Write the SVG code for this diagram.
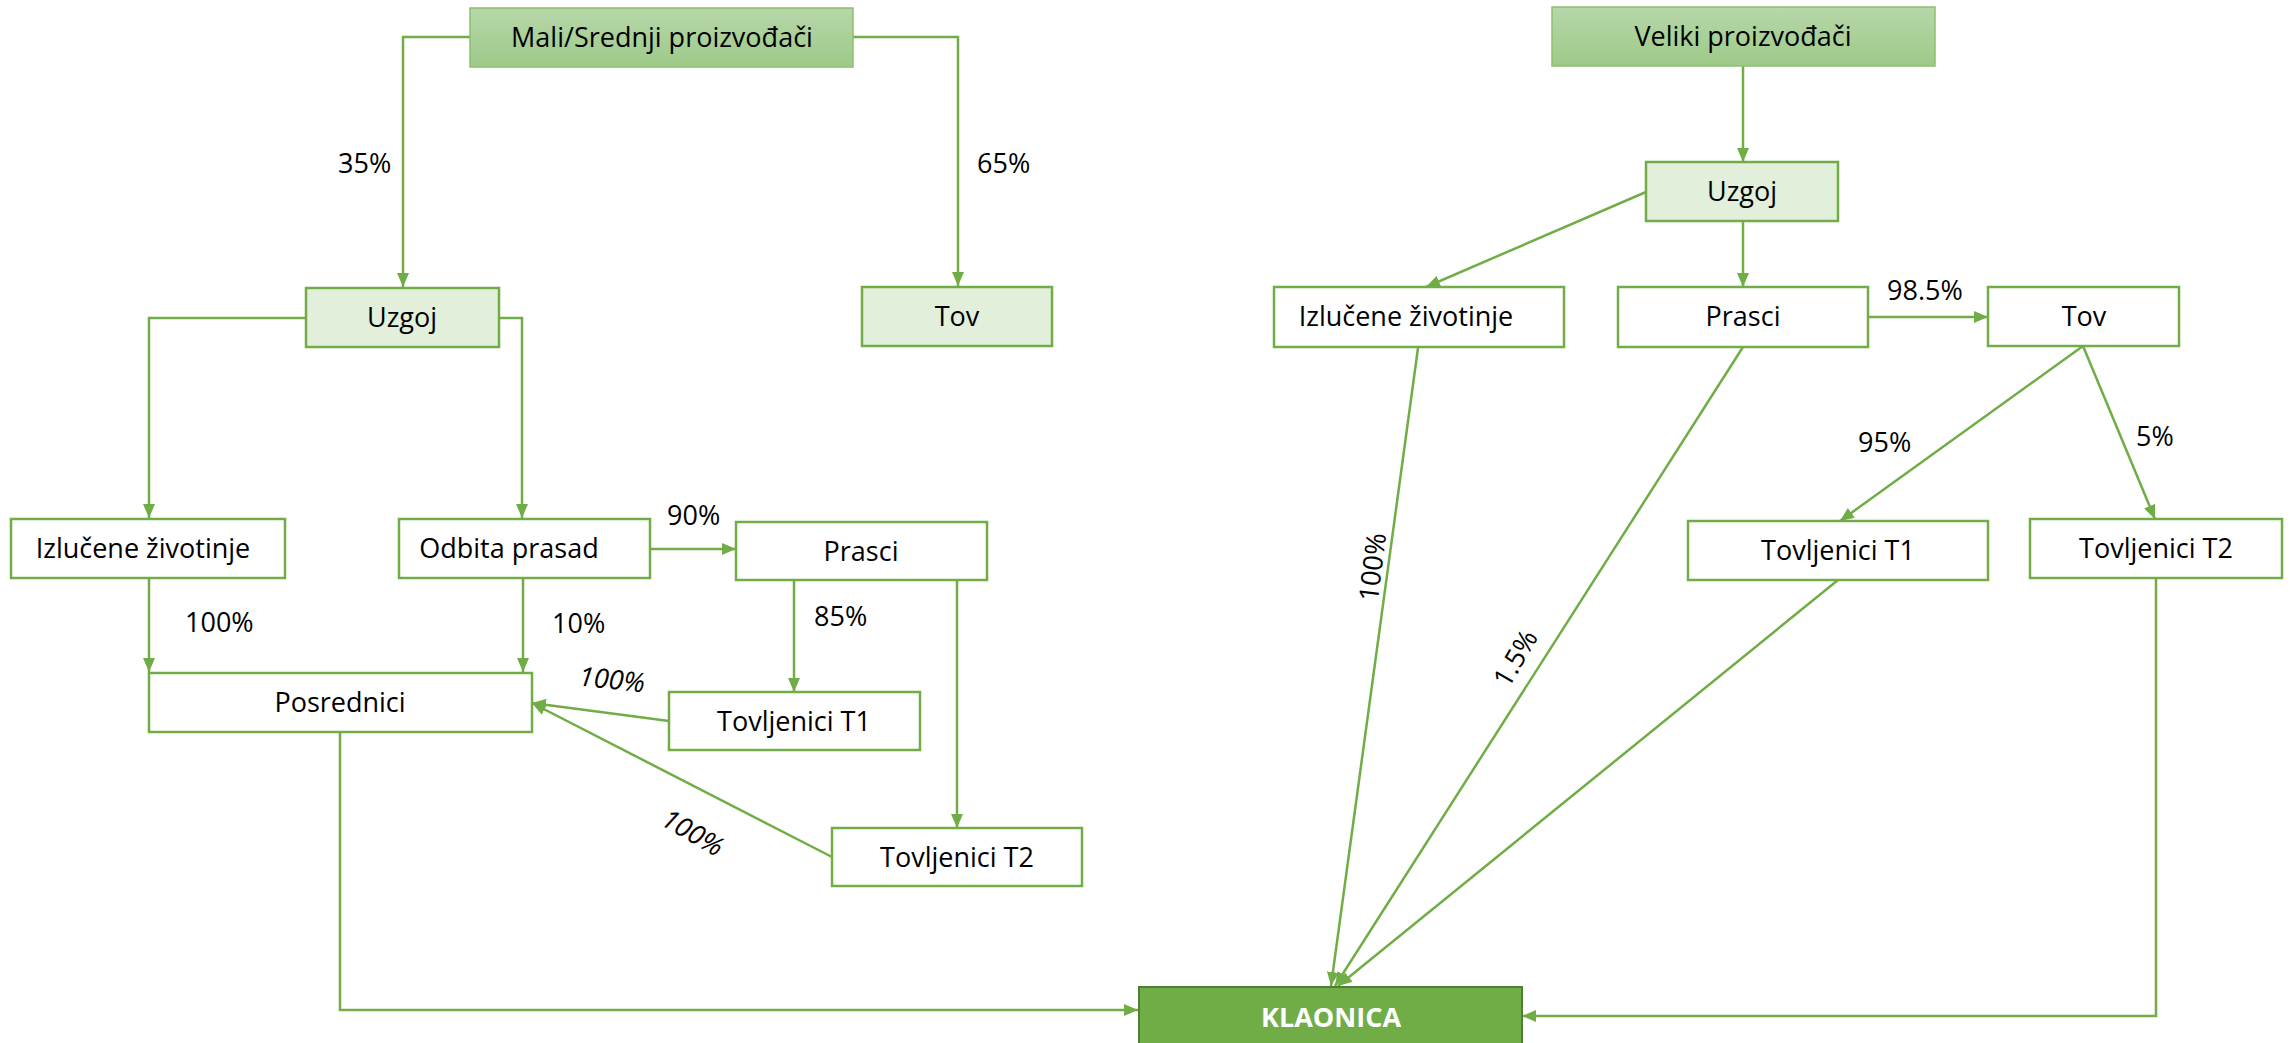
<svg xmlns="http://www.w3.org/2000/svg" width="2290" height="1043" viewBox="0 0 2290 1043">
<defs>
<linearGradient id="gTop" x1="0" y1="0" x2="0" y2="1">
<stop offset="0" stop-color="#B7D7AA"/>
<stop offset="1" stop-color="#9DCA88"/>
</linearGradient>
<marker id="ah" viewBox="0 0 14 12" refX="14" refY="6" markerWidth="14" markerHeight="12" markerUnits="userSpaceOnUse" orient="auto">
<path d="M0,0 L14,6 L0,12 Z" fill="#70AD47"/>
</marker>
<style>
text{font-family:"Open Sans","Liberation Sans",sans-serif;font-size:27px;fill:#000}
.c{text-anchor:middle}
.it{font-style:italic}
.box{fill:#fff;stroke:#70AD47;stroke-width:2.5}
.lt{fill:#E2EFDA;stroke:#70AD47;stroke-width:2.5}
.top{fill:url(#gTop);stroke:#8CC06E;stroke-width:1.5}
.kl{fill:#70AD47;stroke:#507E32;stroke-width:2}
.kt{fill:#fff;font-weight:bold}
#connectors path{fill:none;stroke:#70AD47;stroke-width:2.5;marker-end:url(#ah)}
</style>
</defs>
<rect width="2290" height="1043" fill="#fff"/>

<g id="connectors">
<path d="M470,37 H403 V287"/>
<path d="M853,37 H958 V286"/>
<path d="M306,318 H149 V518"/>
<path d="M499,318 H522 V518"/>
<path d="M149,578 V672"/>
<path d="M523,578 V672"/>
<path d="M650,549 H736"/>
<path d="M794,580 V692"/>
<path d="M957,580 V828"/>
<path d="M669,721 L532,703"/>
<path d="M832,857 L532,703"/>
<path d="M340,732 V1010 H1138"/>
<path d="M1743,66 V162"/>
<path d="M1646,192 L1426,287"/>
<path d="M1743,221 V287"/>
<path d="M1868,317 H1988"/>
<path d="M2083,346 L1840,521"/>
<path d="M2083,346 L2155,519"/>
<path d="M1418,348 L1331,986"/>
<path d="M1743,347 L1335,986"/>
<path d="M1838,580 L1338,986"/>
<path d="M2156,578 V1016 H1522"/>
</g>

<g id="labels">
<text x="338" y="173">35%</text>
<text x="977" y="173">65%</text>
<text x="185" y="632">100%</text>
<text x="552" y="633">10%</text>
<text x="667" y="525">90%</text>
<text x="814" y="626">85%</text>
<text class="c it" x="612" y="689" transform="rotate(6 612 679)">100%</text>
<text class="c it" x="693" y="842" transform="rotate(30 693 832)">100%</text>
<text x="1887" y="300">98.5%</text>
<text x="1858" y="452">95%</text>
<text x="2136" y="446">5%</text>
<text class="c" x="1372" y="577" transform="rotate(-83 1372 567)">100%</text>
<text class="c" x="1515" y="668" transform="rotate(-60 1515 658)">1.5%</text>
</g>

<g id="n-mali"><rect class="top" x="470" y="8" width="383" height="59"/><text class="c" x="662" y="47">Mali/Srednji proizvođači</text></g>
<g id="n-uzgoj-l"><rect class="lt" x="306" y="288" width="193" height="59"/><text class="c" x="402" y="327">Uzgoj</text></g>
<g id="n-tov-l"><rect class="lt" x="862" y="287" width="190" height="59"/><text class="c" x="957" y="326">Tov</text></g>
<g id="n-izl-l"><rect class="box" x="11" y="519" width="274" height="59"/><text class="c" x="143" y="558">Izlučene životinje</text></g>
<g id="n-odbita"><rect class="box" x="399" y="519" width="251" height="59"/><text class="c" x="509" y="558">Odbita prasad</text></g>
<g id="n-prasci-l"><rect class="box" x="736" y="522" width="251" height="58"/><text class="c" x="861" y="561">Prasci</text></g>
<g id="n-posrednici"><rect class="box" x="149" y="673" width="383" height="59"/><text class="c" x="340" y="712">Posrednici</text></g>
<g id="n-t1-l"><rect class="box" x="669" y="692" width="251" height="58"/><text class="c" x="794" y="731">Tovljenici T1</text></g>
<g id="n-t2-l"><rect class="box" x="832" y="828" width="250" height="58"/><text class="c" x="957" y="867">Tovljenici T2</text></g>

<g id="n-veliki"><rect class="top" x="1552" y="7" width="383" height="59"/><text class="c" x="1743" y="46">Veliki proizvođači</text></g>
<g id="n-uzgoj-r"><rect class="lt" x="1646" y="162" width="192" height="59"/><text class="c" x="1742" y="201">Uzgoj</text></g>
<g id="n-izl-r"><rect class="box" x="1274" y="287" width="290" height="60"/><text class="c" x="1406" y="326">Izlučene životinje</text></g>
<g id="n-prasci-r"><rect class="box" x="1618" y="287" width="250" height="60"/><text class="c" x="1743" y="326">Prasci</text></g>
<g id="n-tov-r"><rect class="box" x="1988" y="287" width="191" height="59"/><text class="c" x="2084" y="326">Tov</text></g>
<g id="n-t1-r"><rect class="box" x="1688" y="521" width="300" height="59"/><text class="c" x="1838" y="560">Tovljenici T1</text></g>
<g id="n-t2-r"><rect class="box" x="2030" y="519" width="252" height="59"/><text class="c" x="2156" y="558">Tovljenici T2</text></g>

<g id="n-klaonica"><rect class="kl" x="1139" y="987" width="383" height="70"/><text class="c kt" x="1331" y="1027">KLAONICA</text></g>
</svg>
